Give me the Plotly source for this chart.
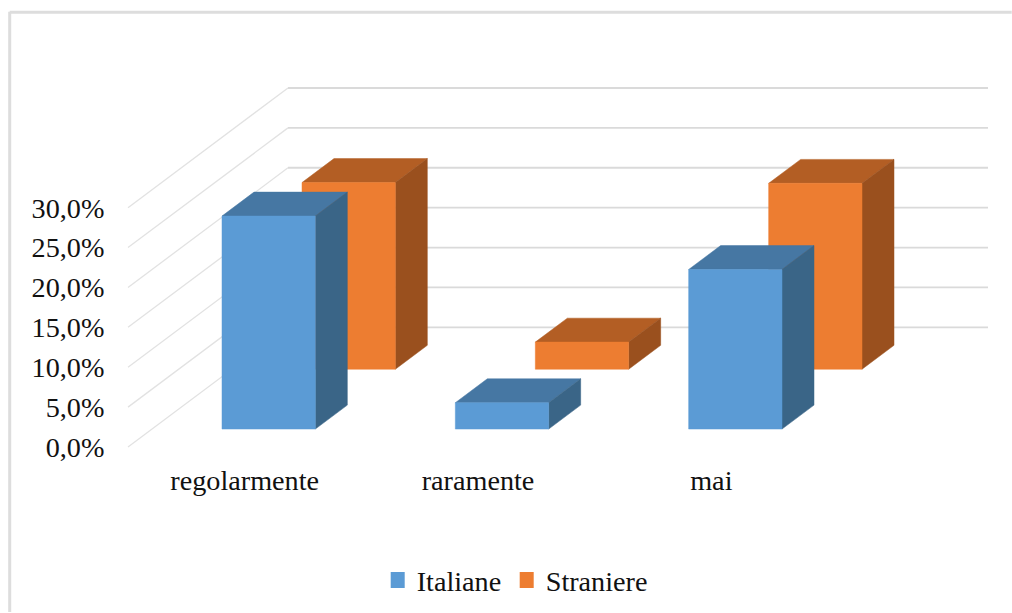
import plotly.graph_objects as go

categories = ["regolarmente", "raramente", "mai"]
italiane = [26.7, 3.3, 20.0]
straniere = [23.4, 3.4, 23.3]
y_ticks = [0, 5, 10, 15, 20, 25, 30]
y_labels = ["0,0%", "5,0%", "10,0%", "15,0%", "20,0%", "25,0%", "30,0%"]

# Oblique projection: depth 0 = front of floor, depth 1 = back wall
PX_PER_CAT = 700 / 3
PX_PER_PCT = 8
DEPTH_DX = 160 / PX_PER_CAT
DEPTH_DY = 120 / PX_PER_PCT
BAR_L, BAR_R = 0.3, 0.7
PAD = 2  # px of plot-area padding so wall lines are not clipped


def proj(cat, val, depth):
    return cat + depth * DEPTH_DX, val + depth * DEPTH_DY


def poly(points):
    xs, ys = zip(*[proj(*p) for p in points + points[:1]])
    return list(xs), list(ys)


def add_face(fig, pts, color):
    x, y = poly(pts)
    fig.add_trace(go.Scatter(x=x, y=y, mode="lines", fill="toself", fillcolor=color,
                             line=dict(color=color, width=0.5), hoverinfo="skip",
                             showlegend=False))


def add_bars(fig, values, d0, d1, front, top, side):
    for i, v in enumerate(values):
        l, r = i + BAR_L, i + BAR_R
        add_face(fig, [(l, v, d0), (r, v, d0), (r, v, d1), (l, v, d1)], top)
        add_face(fig, [(r, 0, d0), (r, 0, d1), (r, v, d1), (r, v, d0)], side)
        add_face(fig, [(l, 0, d0), (r, 0, d0), (r, v, d0), (l, v, d0)], front)


fig = go.Figure()

# walls
for t in y_ticks:
    x, y = zip(proj(0, t, 0), proj(0, t, 1))
    fig.add_trace(go.Scatter(x=x, y=y, mode="lines", line=dict(color="#E2E2E2", width=1.3),
                             hoverinfo="skip", showlegend=False))
    x, y = zip(proj(0, t, 1), proj(3, t, 1))
    fig.add_trace(go.Scatter(x=x, y=y, mode="lines", line=dict(color="#DADADA", width=1.8),
                             hoverinfo="skip", showlegend=False))

add_bars(fig, straniere, 0.65, 0.85, "#ED7D31", "#B35E24", "#9A501E")
add_bars(fig, italiane, 0.15, 0.35, "#5B9BD5", "#4677A3", "#3A6587")

# legend entries
for name, color, lg in [("Italiane", "#5B9BD5", "legend"), ("Straniere", "#ED7D31", "legend2")]:
    fig.add_trace(go.Scatter(x=[None], y=[None], mode="markers", name=name, legend=lg,
                             marker=dict(symbol="square", size=16, color=color)))

# Pixel geometry of the plot area
X0, X1, Y0, Y1 = 128.3, 988.3, 447.5, 87.5
L, R = X0 - PAD, X1 + PAD
T, B = Y1 - PAD, Y0 + PAD
W, H = R - L, B - T


def legend_at(px_x):
    return dict(orientation="h", x=(px_x - L) / W, xanchor="left", y=(B - 581) / H, yanchor="middle",
                bgcolor="rgba(0,0,0,0)", itemwidth=30, indentation=-14, font=dict(size=28.2))


fig.update_layout(
    width=1012, height=613,
    margin=dict(l=L, r=1012 - R, t=T, b=613 - B, pad=0, autoexpand=False),
    paper_bgcolor="white", plot_bgcolor="white",
    font=dict(family="Liberation Serif", size=28.2, color="#111111"),
    showlegend=True,
    legend=legend_at(391),
    legend2=legend_at(520),
    xaxis=dict(range=[-PAD / PX_PER_CAT, (X1 - X0 + PAD) / PX_PER_CAT],
               showgrid=False, zeroline=False, showline=False,
               tickmode="array", tickvals=[i + 0.5 for i in range(3)], ticktext=categories,
               ticks="outside", ticklen=1, tickcolor="rgba(0,0,0,0)", ticklabelstandoff=5,
               fixedrange=True),
    yaxis=dict(range=[-PAD / PX_PER_PCT, (Y0 - Y1 + PAD) / PX_PER_PCT],
               showgrid=False, zeroline=False, showline=False,
               tickmode="array", tickvals=y_ticks, ticktext=y_labels,
               ticks="outside", ticklen=1, tickcolor="rgba(0,0,0,0)", ticklabelstandoff=14,
               fixedrange=True),
)

# Chart frame: only the top and left edges are visible in the reference
def px(p): return (p - L) / W
def py(p): return (B - p) / H
frame = dict(color="#DDDDDD", width=3)
fig.layout.shapes = [
    dict(type="line", xref="paper", yref="paper", x0=px(10), x1=px(10), y0=py(11), y1=py(613), line=frame),
    dict(type="line", xref="paper", yref="paper", x0=px(10), x1=px(1012), y0=py(11.5), y1=py(11.5), line=frame),
]

fig.write_html("out.html", config={"displayModeBar": False},
               post_script="document.body.style.margin='0';document.body.style.overflow='hidden';")
